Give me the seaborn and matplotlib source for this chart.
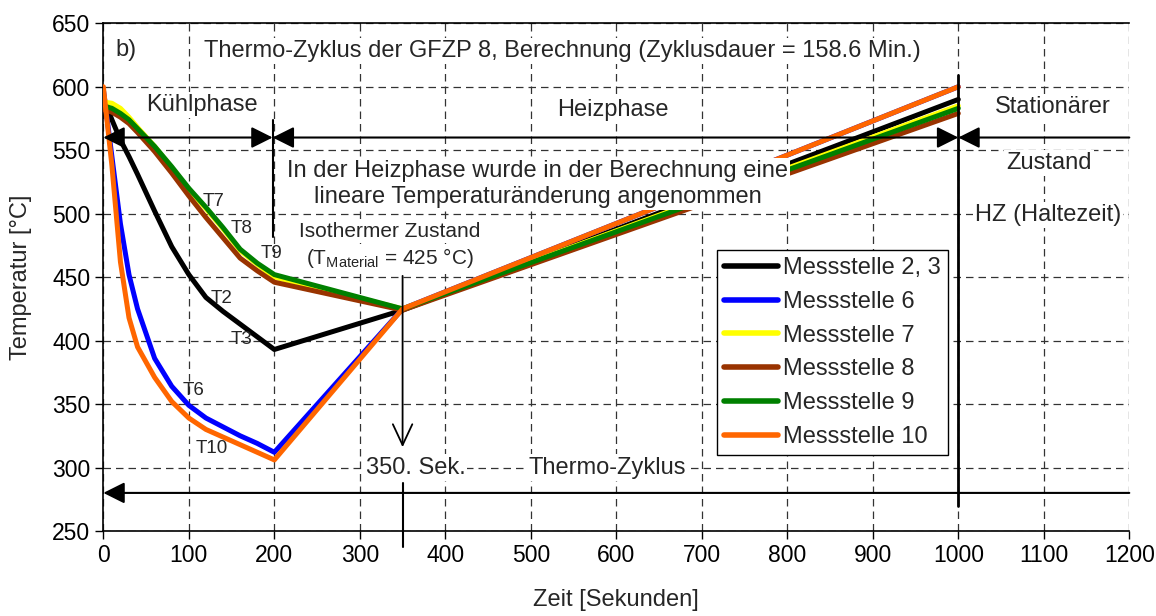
import numpy as np
import pandas as pd
import matplotlib
matplotlib.use("Agg")
import matplotlib.pyplot as plt
import seaborn as sns

# ---------------- data ----------------
zeit = [0, 10, 20, 30, 40, 60, 80, 100, 120, 140, 160, 180, 200, 350, 1000]
ms_2_3 = [592, 574, 558, 545, 531, 502, 474, 452, 434, 423, 413, 403, 393, 424, 590]
ms_6 = [598, 545, 492, 452, 425, 386, 364, 349, 339, 332, 325, 319, 312, 425, 600]
ms_7 = [588, 587, 583, 576, 568, 553, 536, 519, 504, 488, 471, 460, 450, 425, 585]
ms_8 = [582, 580, 576, 571, 564, 549, 532, 514, 497, 481, 465, 455, 446, 424, 579]
ms_9 = [585, 583, 579, 574, 567, 553, 537, 520, 505, 489, 472, 461, 452, 425, 583]
ms_10 = [600, 538, 462, 418, 395, 371, 352, 339, 330, 324, 318, 312, 306, 425, 600]

series_names = ["Messstelle 2, 3", "Messstelle 6", "Messstelle 7",
                "Messstelle 8", "Messstelle 9", "Messstelle 10"]
series_values = [ms_2_3, ms_6, ms_7, ms_8, ms_9, ms_10]
series_colors = ["#000000", "#0000FF", "#FFFF00", "#993300", "#008000", "#FF6600"]

x_ticks = list(range(0, 1201, 100))
y_ticks = list(range(250, 651, 50))

df = pd.DataFrame({
    "Zeit": np.concatenate([zeit] * len(series_names)),
    "Temperatur": np.concatenate(series_values),
    "Serie": np.repeat(series_names, len(zeit)),
})

# ---------------- figure ----------------
sns.set_style("ticks")
plt.rcParams["font.family"] = ["Liberation Sans", "DejaVu Sans"]
plt.rcParams["mathtext.fontset"] = "custom"
plt.rcParams["mathtext.rm"] = "Liberation Sans"
plt.rcParams["mathtext.it"] = "Liberation Sans"

fig = plt.figure(figsize=(11.56, 6.16), dpi=100)
ax = fig.add_axes([0.0894, 0.138, 0.8875, 0.8242])

sns.lineplot(data=df, x="Zeit", y="Temperatur", hue="Serie",
             hue_order=series_names, palette=dict(zip(series_names, series_colors)),
             estimator=None, sort=False, linewidth=3.6, ax=ax, zorder=3)

ax.set_xlim(0, 1200)
ax.set_ylim(250, 650)
ax.set_xticks(x_ticks)
ax.set_yticks(y_ticks)
ax.tick_params(axis="both", labelsize=16.5, direction="out", length=6, width=1,
               color="black", labelcolor="black")
ax.set_xlabel("Zeit [Sekunden]", fontsize=17, labelpad=16)
ax.set_ylabel("Temperatur [°C]", fontsize=17, labelpad=14)

ax.grid(True, which="major", color="#333333", linestyle=(0, (6, 4)), linewidth=0.9)
ax.set_axisbelow(True)
for s in ["left", "bottom", "top"]:
    ax.spines[s].set_visible(True)
    ax.spines[s].set_color("black")
    ax.spines[s].set_linewidth(1.2)
ax.spines["right"].set_visible(False)

# ---------------- arrows / guide lines ----------------
arr_kw = dict(color="black", lw=1.5, shrinkA=0, shrinkB=0, mutation_scale=13)
ax.annotate("", xy=(0, 560), xytext=(198, 560), annotation_clip=False,
            arrowprops=dict(arrowstyle="<|-|>,head_length=1.0,head_width=0.5", **arr_kw), zorder=6)
ax.annotate("", xy=(198, 560), xytext=(1000, 560), annotation_clip=False,
            arrowprops=dict(arrowstyle="<|-|>,head_length=1.0,head_width=0.5", **arr_kw), zorder=6)
ax.annotate("", xy=(1000, 560), xytext=(1200, 560), annotation_clip=False,
            arrowprops=dict(arrowstyle="-|>,head_length=1.0,head_width=0.5", **arr_kw), zorder=6)
ax.annotate("", xy=(0, 280), xytext=(1200, 280), annotation_clip=False,
            arrowprops=dict(arrowstyle="-|>,head_length=1.0,head_width=0.5", **arr_kw), zorder=2)
# open down arrow at 350 s
ax.annotate("", xy=(350, 316), xytext=(350, 451), annotation_clip=False,
            arrowprops=dict(arrowstyle="->,head_length=1.5,head_width=0.7", color="black",
                            lw=1.3, shrinkA=0, shrinkB=0, mutation_scale=10), zorder=6)
# vertical guide lines
ax.plot([198, 198], [574, 482], color="black", lw=1.5, zorder=6)
ax.plot([1000, 1000], [609, 270], color="black", lw=2.0, zorder=6)
ax.plot([350, 350], [288, 237], color="black", lw=1.5, zorder=6, clip_on=False)

# ---------------- texts ----------------
box = dict(facecolor="white", edgecolor="none", pad=1.5)
ax.text(14, 629, "b)", fontsize=17, ha="left", va="center", zorder=7)
ax.text(537, 628, "Thermo-Zyklus der GFZP 8, Berechnung (Zyklusdauer = 158.6 Min.)",
        fontsize=17, ha="center", va="center", bbox=box, zorder=7)
ax.text(115, 585.5, "Kühlphase", fontsize=17, ha="center", va="center", bbox=box, zorder=7)
ax.text(596, 582, "Heizphase", fontsize=17, ha="center", va="center", bbox=box, zorder=7)
ax.text(1111, 584, "Stationärer", fontsize=17, ha="center", va="center", bbox=box, zorder=7)
ax.text(1106, 540, "Zustand", fontsize=17, ha="center", va="center", bbox=box, zorder=7)
ax.text(1105, 499, "HZ (Haltezeit)", fontsize=17, ha="center", va="center", bbox=box, zorder=7)
ax.text(508, 523.5, "In der Heizphase wurde in der Berechnung eine\nlineare Temperaturänderung angenommen",
        fontsize=17, ha="center", va="center", linespacing=1.2, bbox=box, zorder=7)
ax.text(335, 486, "Isothermer Zustand", fontsize=15, ha="center", va="center", bbox=box, zorder=7)
ax.text(335, 465, r"(T$_{\mathrm{Material}}$ = 425 °C)", fontsize=15, ha="center", va="center",
        bbox=box, zorder=7)
ax.text(365, 300, "350. Sek.", fontsize=17, ha="center", va="center", bbox=box, zorder=7)
ax.text(497, 300, "Thermo-Zyklus", fontsize=17, ha="left", va="center", bbox=box, zorder=7)

curve_labels = [("T7", 129, 509.5), ("T8", 162, 488.5), ("T9", 197, 469),
                ("T2", 138.5, 433.5), ("T3", 162, 400.5), ("T6", 105, 361), ("T10", 127, 315)]
for lab, lx, ly in curve_labels:
    ax.text(lx, ly, lab, fontsize=13.5, ha="center", va="center", zorder=7)

# ---------------- legend ----------------
leg = ax.legend(loc="upper left", bbox_to_anchor=(0.598, 0.5535), borderaxespad=0,
                fontsize=17, frameon=True, fancybox=False, shadow=False,
                handlelength=2.3, handletextpad=0.2, labelspacing=0.5, borderpad=0.3,
                title=None)
leg.get_frame().set_edgecolor("black")
leg.get_frame().set_linewidth(1.0)
leg.get_frame().set_facecolor("white")
leg.get_frame().set_alpha(1)
leg.set_zorder(8)
for h in leg.get_lines():
    h.set_linewidth(4)

fig.savefig("out.png", dpi=100)
